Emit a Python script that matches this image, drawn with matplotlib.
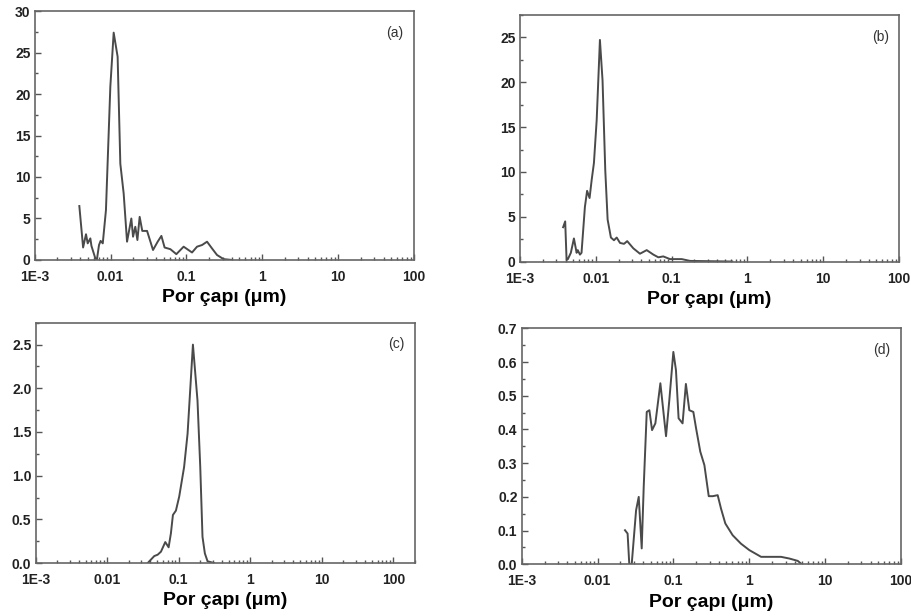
import matplotlib
matplotlib.use("Agg")
import matplotlib.pyplot as plt
from matplotlib.ticker import FixedLocator, LogLocator, NullFormatter, MultipleLocator

plt.rcParams['font.family'] = ['Liberation Sans', 'DejaVu Sans']

# (a) pore size distribution
xa = [0.00388, 0.00435, 0.00475, 0.0050, 0.00542, 0.0056, 0.0063, 0.0066, 0.00705,
      0.0074, 0.0079, 0.0087, 0.00994, 0.0110, 0.0124, 0.01346, 0.0149, 0.0165,
      0.0188, 0.0198, 0.0212, 0.0226, 0.0242, 0.0262, 0.0303, 0.0363, 0.0418,
      0.0468, 0.0516, 0.0614, 0.0737, 0.0919, 0.1186, 0.138, 0.1607, 0.187,
      0.217, 0.253, 0.309, 0.398]
ya = [6.5, 1.5, 3.1, 2.0, 2.6, 1.7, 0.2, 0.0, 1.8,
      2.3, 2.0, 6.0, 20.9, 27.4, 24.5, 11.6, 8.0, 2.2,
      5.0, 2.8, 4.0, 2.4, 5.2, 3.5, 3.5, 1.2, 2.2,
      2.9, 1.5, 1.3, 0.7, 1.6, 0.9, 1.6, 1.8, 2.2,
      1.4, 0.6, 0.1, 0.0]

# (b)
xb = [0.00372, 0.00396, 0.00413, 0.0043, 0.0047, 0.00516, 0.0056, 0.0058, 0.0062,
      0.0065, 0.0072, 0.0077, 0.0083, 0.00884, 0.00947, 0.0103, 0.01136, 0.0123,
      0.01336, 0.01435, 0.01585, 0.0174, 0.0189, 0.0209, 0.0236, 0.026, 0.0313,
      0.0383, 0.047, 0.0575, 0.0669, 0.0777, 0.0953, 0.136, 0.175, 0.3, 0.63]
yb = [3.85, 4.5, 0.2, 0.3, 1.0, 2.6, 1.0, 1.3, 0.8,
      1.0, 6.1, 7.9, 7.1, 9.1, 11.0, 15.8, 24.7, 20.2,
      10.2, 4.7, 2.7, 2.4, 2.7, 2.1, 2.0, 2.3, 1.5,
      0.9, 1.3, 0.8, 0.5, 0.6, 0.3, 0.3, 0.1, 0.07, 0.03]

# (c)
xc = [0.0369, 0.041, 0.0456, 0.0508, 0.0565, 0.0649, 0.0723, 0.0778, 0.083,
      0.0914, 0.1016, 0.119, 0.133, 0.158, 0.183, 0.200, 0.215, 0.232, 0.253, 0.312]
yc = [0.0, 0.04, 0.08, 0.095, 0.13, 0.24, 0.18, 0.34, 0.55,
      0.6, 0.76, 1.10, 1.48, 2.5, 1.86, 1.10, 0.3, 0.11, 0.02, 0.0]

# (d)
xd = [0.023, 0.0249, 0.0262, 0.0282, 0.0322, 0.0349, 0.0382, 0.0406, 0.0445,
      0.0482, 0.0523, 0.0578, 0.0673, 0.0799, 0.0883, 0.0998, 0.108, 0.117,
      0.132, 0.146, 0.162, 0.183, 0.199, 0.226, 0.256, 0.292, 0.33, 0.383,
      0.424, 0.483, 0.604, 0.777, 1.0, 1.43, 1.93, 2.62, 3.37, 4.35, 4.8]
yd = [0.101, 0.091, 0.0, 0.0, 0.16, 0.2, 0.047, 0.23, 0.452,
      0.457, 0.398, 0.418, 0.537, 0.38, 0.487, 0.63, 0.576, 0.433,
      0.418, 0.535, 0.457, 0.452, 0.403, 0.334, 0.294, 0.202, 0.202, 0.205,
      0.165, 0.121, 0.086, 0.061, 0.042, 0.022, 0.022, 0.022, 0.017, 0.01, 0.002]

xticks = [1e-3, 1e-2, 1e-1, 1, 10, 100]
xticklabels = ['1E-3', '0.01', '0.1', '1', '10', '100']

fig = plt.figure(figsize=(9.12, 6.16), dpi=100)

# axes positions [left, bottom, width, height]
panels = [
    ([0.038, 0.578, 0.416, 0.404], xa, ya, (1e-3, 100), (0, 30), 5, 2.5, '%d', '(a)'),
    ([0.570, 0.575, 0.416, 0.401], xb, yb, (1e-3, 100), (0, 27.5), 5, 2.5, '%d', '(b)'),
    ([0.039, 0.086, 0.416, 0.390], xc, yc, (1e-3, 200), (0, 2.75), 0.5, 0.25, '%.1f', '(c)'),
    ([0.572, 0.084, 0.416, 0.383], xd, yd, (1e-3, 100), (0, 0.7), 0.1, 0.05, '%.1f', '(d)'),
]

for pos, x, y, xl, yl, major, minor, fmt, tag in panels:
    ax = fig.add_axes(pos)
    ax.plot(x, y, color='#4a4a4a', linewidth=1.4)
    ax.set_xscale('log')
    ax.set_xlim(*xl)
    ax.set_ylim(*yl)
    ax.xaxis.set_major_locator(FixedLocator(xticks))
    ax.set_xticklabels(xticklabels)
    ax.xaxis.set_minor_locator(LogLocator(base=10, subs=range(2, 10), numticks=20))
    ax.xaxis.set_minor_formatter(NullFormatter())
    ax.yaxis.set_major_locator(MultipleLocator(major))
    ax.yaxis.set_minor_locator(MultipleLocator(minor))
    ax.yaxis.set_major_formatter(matplotlib.ticker.FormatStrFormatter(fmt))
    ax.tick_params(which='both', direction='in', colors='#555555', labelcolor='#222222',
                   labelsize=10, width=1)
    ax.tick_params(which='major', length=4)
    ax.tick_params(which='minor', length=2)
    ax.tick_params(axis='y', which='both', pad=3)
    ax.tick_params(axis='x', which='both', pad=7)
    for lab in ax.get_xticklabels() + ax.get_yticklabels():
        lab.set_fontweight('bold')
    for s in ax.spines.values():
        s.set_color('#666666')
        s.set_linewidth(1.2)
    ax.set_xlabel('Por çapı (μm)', fontsize=14, fontweight='bold', labelpad=4)
    ax.text(0.95, 0.91, tag, transform=ax.transAxes, ha='center', va='center',
            fontsize=10, color='#333333')

fig.savefig('out.png', dpi=100)
